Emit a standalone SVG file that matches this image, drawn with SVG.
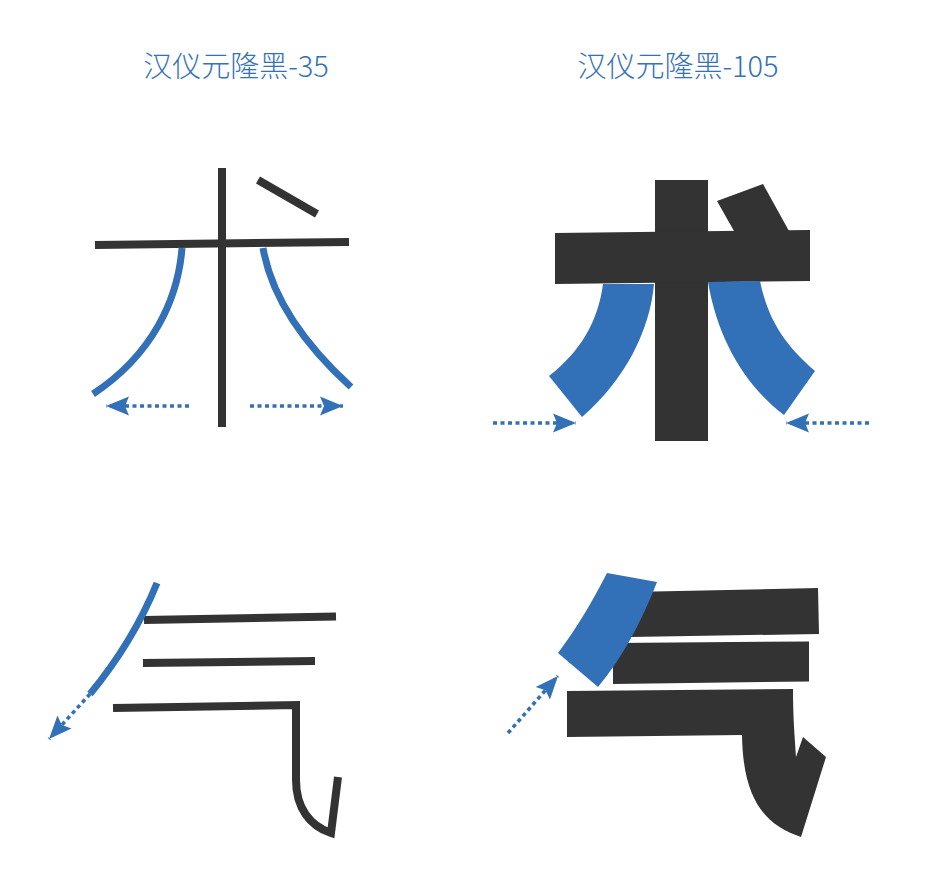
<svg xmlns="http://www.w3.org/2000/svg" width="928" height="878" viewBox="0 0 928 878">
  <defs>
    <style>
      .title { font-family: "Noto Sans CJK SC", "Noto Sans", sans-serif; font-size: 29px; font-weight: 300; fill: #3371b8; text-anchor: middle; }
      .ink { stroke: #333333; stroke-width: 8; fill: none; }
      .inkfill { fill: #333333; stroke: none; }
      .blue { stroke: #3270b7; stroke-width: 7; fill: none; }
      .bluefill { fill: #3270b7; stroke: none; }
      .dot { stroke: #3270b7; stroke-width: 3.6; fill: none; stroke-dasharray: 4 3.5; }
    </style>
    <marker id="head" markerUnits="userSpaceOnUse" markerWidth="26" markerHeight="22" refX="23" refY="10" orient="auto" viewBox="0 0 26 22">
      <path d="M0,0.5 L23,10 L0,19.5 L4,10 Z" fill="#3270b7"/>
    </marker>
  </defs>
  <rect x="0" y="0" width="928" height="878" fill="#ffffff"/>

  <g id="titles">
    <text class="title" x="236" y="77">汉仪元隆黑-35</text>
    <text class="title" x="678" y="77">汉仪元隆黑-105</text>
  </g>

  <g id="char-shu-35">
    <line class="ink" x1="222" y1="168" x2="222" y2="427"/>
    <line class="ink" x1="95" y1="245" x2="349" y2="242"/>
    <line class="ink" x1="258" y1="180" x2="317" y2="214"/>
    <path class="blue" d="M182,248 C178,300 152,355 93,394"/>
    <path class="blue" d="M263,248 C272,300 305,345 351,387"/>
  </g>

  <g id="char-shu-105">
    <rect class="inkfill" x="655" y="180" width="53" height="261"/>
    <polygon class="inkfill" points="555,233 810,230 810,281 555,284"/>
    <polygon class="inkfill" points="717,201 763,184 789,231 734,231"/>
    <path class="bluefill" d="M603,284 C598,322 580,352 549,376 L582,417 C625,380 650,330 654,284 Z"/>
    <path class="bluefill" d="M708,282 C718,340 745,385 784,415 L815,371 C785,345 768,320 760,281 Z"/>
  </g>

  <g id="char-qi-35">
    <line class="ink" x1="144" y1="620" x2="336" y2="616.5"/>
    <line class="ink" x1="143" y1="663" x2="315" y2="661"/>
    <path class="ink" d="M113,708 L296,705 L296,780 C296,808 310,826 331,833 L338,777" stroke-linejoin="miter"/>
    <path class="blue" d="M157,583 C140,625 118,660 90,694"/>
  </g>

  <g id="char-qi-105">
    <polygon class="inkfill" points="630,592 818,588 819,634 630,637"/>
    <polygon class="inkfill" points="613,643 809,641.5 809,681.5 613,684"/>
    <path class="inkfill" d="M567,691 L793,689 C793,720 795,740 796,757 L803,737 L826,757 L801,837 C765,825 743,800 742,735 L567,737 Z"/>
    <path class="bluefill" d="M607,573 C592,602 577,628 558,653 L598,687 C622,658 640,625 657,582 Z"/>
  </g>

  <g id="connectors">
    <line class="dot" x1="189" y1="406" x2="106" y2="406" marker-end="url(#head)"/>
    <line class="dot" x1="250" y1="406" x2="343" y2="406" marker-end="url(#head)"/>
    <line class="dot" x1="493" y1="423" x2="576" y2="423" marker-end="url(#head)"/>
    <line class="dot" x1="869" y1="423" x2="786" y2="423" marker-end="url(#head)"/>
    <line class="dot" x1="90" y1="694" x2="49" y2="739" marker-end="url(#head)"/>
    <line class="dot" x1="508" y1="733" x2="558" y2="676" marker-end="url(#head)"/>
  </g>
</svg>
